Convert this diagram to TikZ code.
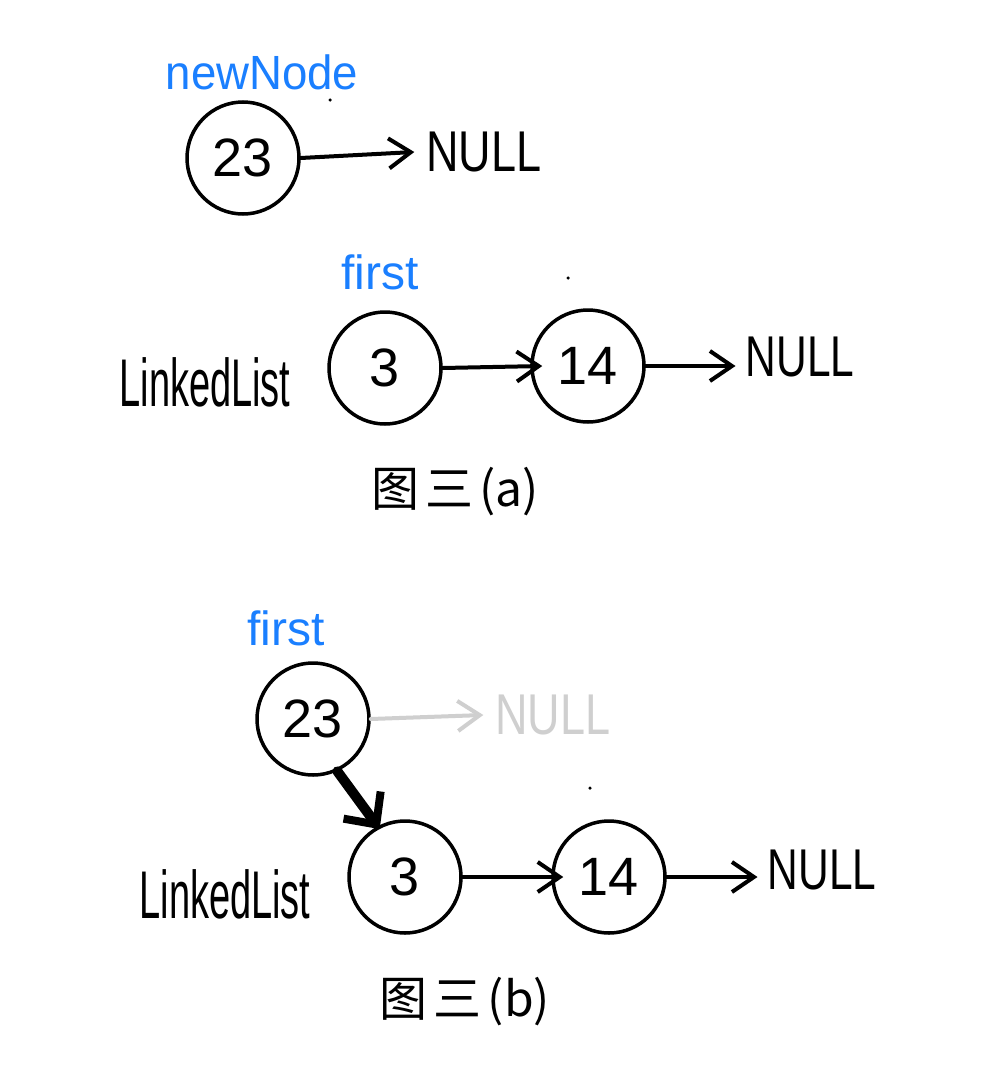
\documentclass[tikz,border=0pt]{standalone}
\usepackage{fontspec}
\setmainfont{Liberation Sans}
\newfontfamily\cjk{Noto Sans CJK SC}
\usetikzlibrary{arrows.meta}
\definecolor{hblue}{HTML}{1A7FFF}
\definecolor{hgray}{HTML}{CFCFCF}
\begin{document}
\begin{tikzpicture}[x=1pt,y=-1pt,
  cnode/.style={draw,circle,line width=3.5pt,minimum size=112pt,inner sep=0pt,
    font=\fontsize{54}{54}\selectfont},
  lbl/.style={inner sep=0pt,font=\fontsize{50}{50}\selectfont},
  blbl/.style={inner sep=0pt,text=hblue,font=\fontsize{48}{48}\selectfont},
  captxt/.style={inner sep=0pt,font=\cjk\fontsize{48}{48}\selectfont},
  link/.style={line width=4pt,line cap=round,-{Straight Barb[length=22pt,width=30pt,line width=4pt]}},
  biglink/.style={line width=10pt,line cap=round,-{Straight Barb[length=24pt,width=46pt,line width=8pt]}},
  dotm/.style={fill,circle,inner sep=0pt,minimum size=3.5pt}]
\useasboundingbox[fill=white] (0,0) rectangle (1000,1092);
% top
\node[blbl,xscale=0.95] (nn) at (262,72) {newNode};
\node[dotm] (d1) at (330,100) {};
\node[cnode] (a23) at (243,158) {23};
\node[lbl,xscale=0.9,yscale=1.15] (null0) at (484,152) {NULL};
\draw[link] (a23.east) -- ([xshift=-12pt]null0.west);
% (a)
\node[blbl] (f1) at (380,272) {first};
\node[dotm] (d2) at (568,278) {};
\node[cnode] (a3) at (385,368) {3};
\node[cnode] (a14) at (588,366) {14};
\node[lbl,xscale=0.85,yscale=1.15] (null1) at (800,357) {NULL};
\node[lbl,xscale=0.76,yscale=1.35] (ll1) at (205,382) {LinkedList};
\draw[link] (a3.east) -- ([xshift=12pt]a14.west);
\draw[link] (a14.east) -- ([xshift=-10pt]null1.west |- a14.east);
\node[captxt] (capa) at (455,492) {图\hspace{6pt}三\hspace{6pt}(a)};
% (b)
\node[blbl] (f2) at (286,628) {first};
\node[cnode] (b23) at (313,719) {23};
\node[lbl,xscale=0.9,yscale=1.15,text=hgray] (null2) at (553,715) {NULL};
\draw[link,hgray] (b23.east) -- ([xshift=-12pt]null2.west);
\node[dotm] (d3) at (590,788) {};
\node[cnode] (b3) at (405,877) {3};
\node[cnode] (b14) at (609,877) {14};
\node[lbl,xscale=0.85,yscale=1.15] (null3) at (822,870) {NULL};
\node[lbl,xscale=0.76,yscale=1.35] (ll2) at (225,894) {LinkedList};
\draw[biglink] (b23.-65) -- ([yshift=-4pt]b3.116);
\draw[link] (b3.east) -- ([xshift=12pt]b14.west);
\draw[link] (b14.east) -- ([xshift=-10pt]null3.west |- b14.east);
\node[captxt] (capb) at (465,1002) {图\hspace{6pt}三\hspace{6pt}(b)};
\end{tikzpicture}
\end{document}
